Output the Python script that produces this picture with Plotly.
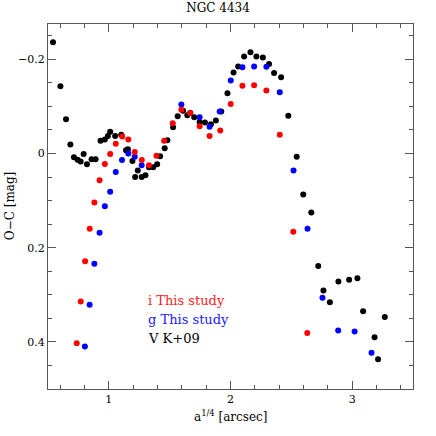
import plotly.graph_objects as go

# ---- data ----
# V band, K+09 (black)
v_x = [0.541, 0.602, 0.648, 0.684, 0.713, 0.743, 0.768, 0.793, 0.820, 0.858,
       0.891, 0.932, 0.967, 0.992, 1.011, 1.052, 1.102, 1.141, 1.157, 1.194,
       1.216, 1.238, 1.270, 1.301, 1.330, 1.364, 1.397, 1.421, 1.459, 1.481,
       1.528, 1.566, 1.610, 1.645, 1.670, 1.702, 1.746, 1.790, 1.839, 1.880,
       1.924, 1.975, 2.025, 2.063, 2.112, 2.164, 2.213, 2.266, 2.317, 2.358,
       2.416, 2.475, 2.544, 2.598, 2.664, 2.721, 2.764, 2.817, 2.887, 2.975,
       3.043, 3.090, 3.184, 3.213, 3.268]
v_y = [-0.236, -0.143, -0.073, -0.019, 0.008, 0.013, 0.017, 0.001, 0.023, 0.012,
       0.012, -0.027, -0.030, -0.037, -0.046, -0.037, -0.040, -0.007, -0.009, 0.016,
       0.050, 0.036, 0.050, 0.046, 0.029, 0.029, 0.023, 0.006, -0.011, -0.028,
       -0.056, -0.079, -0.091, -0.081, -0.086, -0.077, -0.067, -0.066, -0.062, -0.070,
       -0.089, -0.128, -0.172, -0.185, -0.206, -0.215, -0.206, -0.204, -0.190, -0.171,
       -0.162, -0.080, 0.007, 0.087, 0.125, 0.239, 0.291, 0.316, 0.272, 0.268,
       0.265, 0.335, 0.390, 0.437, 0.347]

# i band, this study (red)
i_x = [0.736, 0.769, 0.805, 0.843, 0.881, 0.924, 0.967, 1.011, 1.057, 1.110,
       1.160, 1.213, 1.271, 1.330, 1.391, 1.455, 1.525, 1.596, 1.667, 1.746,
       1.828, 1.916, 2.002, 2.098, 2.194, 2.295, 2.405, 2.516, 2.631]
i_y = [0.403, 0.314, 0.229, 0.160, 0.104, 0.057, 0.022, 0.001, -0.021, -0.036,
       -0.030, -0.003, 0.014, 0.025, 0.005, -0.027, -0.064, -0.093, -0.086, -0.058,
       -0.037, -0.049, -0.105, -0.144, -0.145, -0.134, -0.040, 0.166, 0.381]

# g band, this study (blue)
g_x = [0.803, 0.842, 0.881, 0.924, 0.967, 1.011, 1.057, 1.108, 1.160, 1.213,
       1.270, 1.596, 1.746, 1.828, 1.911, 2.002, 2.098, 2.194, 2.295, 2.405,
       2.518, 2.633, 2.756, 2.885, 3.020, 3.159]
g_y = [0.410, 0.321, 0.234, 0.168, 0.112, 0.081, 0.039, 0.014, 0.000, 0.007,
       0.025, -0.104, -0.077, -0.057, -0.089, -0.155, -0.183, -0.185, -0.184, -0.130,
       0.036, 0.160, 0.306, 0.376, 0.378, 0.423]

legend_labels = ["i This study", "g This study", "V K+09"]
legend_colors = ["#ff2020", "#2020ff", "#000000"]
legend_y = [0.312, 0.353, 0.392]

FONT = "DejaVu Serif"
AXC = "#555555"

fig = go.Figure()
for xs, ys, col in [(v_x, v_y, "black"), (g_x, g_y, "#0000ff"), (i_x, i_y, "#ff0000")]:
    fig.add_trace(go.Scatter(x=xs, y=ys, mode="markers",
                             marker=dict(color=col, size=6, line=dict(width=0)),
                             showlegend=False, hoverinfo="skip"))

for lab, col, yy in zip(legend_labels, legend_colors, legend_y):
    fig.add_annotation(x=1.307, y=yy, xref="x", yref="y", text=lab, showarrow=False,
                       xanchor="left", yanchor="middle",
                       font=dict(family=FONT, size=13, color=col))

# axis titles as annotations for precise placement
fig.add_annotation(x=0.5, y=-0.075, xref="paper", yref="paper", text="a<sup>1/4</sup> [arcsec]",
                   showarrow=False, xanchor="center", yanchor="middle",
                   font=dict(family=FONT, size=12, color="black"))
fig.add_annotation(x=-0.105, y=0.5, xref="paper", yref="paper", text="O−C [mag]",
                   showarrow=False, xanchor="center", yanchor="middle", textangle=-90,
                   font=dict(family=FONT, size=12, color="black"))

axis_common = dict(showgrid=False, zeroline=False, showline=True, linecolor=AXC, linewidth=1,
                   mirror="ticks", ticks="inside", tickcolor=AXC, tickwidth=1, ticklen=8,
                   automargin=False,
                   tickfont=dict(family=FONT, size=11, color="black"))

fig.update_xaxes(range=[0.5, 3.5], dtick=1, tick0=0,
                 minor=dict(dtick=0.2, tick0=0, ticks="inside", ticklen=4, tickcolor=AXC),
                 **axis_common)
fig.update_yaxes(range=[0.5, -0.275], dtick=0.2, tick0=0,
                 minor=dict(dtick=0.05, tick0=0, ticks="inside", ticklen=4, tickcolor=AXC),
                 **axis_common)

fig.update_layout(
    width=436, height=436,
    margin=dict(l=48, r=23, t=24, b=47),
    plot_bgcolor="white", paper_bgcolor="white",
    title=dict(text="NGC 4434", x=0.5, xanchor="center", y=0.982, yanchor="middle",
               font=dict(family=FONT, size=12, color="black")),
)

# drop the default 8px page margin so the figure sits at the window origin
fig.write_html("out.html", config={"displayModeBar": False},
               post_script="document.body.style.margin='0';")
